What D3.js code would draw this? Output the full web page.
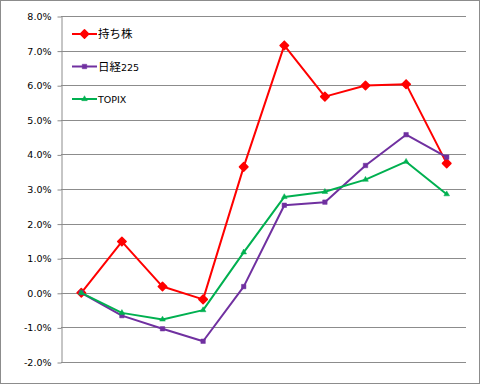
<!DOCTYPE html>
<html><head><meta charset="utf-8">
<script src="https://cdn.jsdelivr.net/npm/d3@7"></script>
<style>body{margin:0;background:#fff}svg{display:block}</style>
</head><body>
<svg id="c" width="480" height="384"></svg>
<script>
const categories = ["1","2","3","4","5","6","7","8","9","10"];
const seriesNames = ["持ち株","日経225","TOPIX"];
const holdings = [0.0, 1.48, 0.18, -0.19, 3.64, 7.15, 5.67, 5.99, 6.03, 3.74];
const nikkei = [0.0, -0.66, -1.04, -1.40, 0.18, 2.53, 2.62, 3.68, 4.57, 3.92];
const topix = [0.0, -0.58, -0.77, -0.50, 1.17, 2.77, 2.92, 3.27, 3.79, 2.85];
const yTicks = [-2,-1,0,1,2,3,4,5,6,7,8];
const colors = ["#FF0000","#7030A0","#00B050"];
const markers = [d3.symbolSquare, d3.symbolSquare, d3.symbolTriangle];
const markerSizes = [36, 20, 14];
const markerRot = [45, 0, 0];

const svg = d3.select("#c");
svg.append("rect").attr("x",0.5).attr("y",0.5).attr("width",479).attr("height",383)
  .attr("fill","#fff").attr("stroke","#8c8c8c");

const L=61, R=467, T=16, B=362;
const x = d3.scaleBand().domain(categories).range([L,R]);
const y = d3.scaleLinear().domain([-2,8]).range([B,T]);
const cx = c => x(c) + x.bandwidth()/2;

// gridlines
svg.append("g").selectAll("line").data(yTicks).join("line")
  .attr("x1",L).attr("x2",R-1).attr("y1",d=>Math.round(y(d))+0.5).attr("y2",d=>Math.round(y(d))+0.5)
  .attr("stroke","#8c8c8c").attr("stroke-width",1);

// y axis
const yAxis = d3.axisLeft(y).tickValues(yTicks).tickSizeOuter(0).tickSizeInner(4).tickPadding(6)
  .tickFormat(d=>d.toFixed(1)+"%");
const ga = svg.append("g").attr("transform",`translate(${L+0.5},0.5)`).call(yAxis);
ga.select(".domain").attr("stroke","#8c8c8c");
ga.selectAll(".tick line").attr("stroke","#8c8c8c");
ga.selectAll(".tick text").attr("font-family","'DejaVu Sans', Verdana, sans-serif")
  .attr("font-size","9.5px").attr("fill","#000");

const data = [holdings, nikkei, topix];
const line = d3.line().x((d,i)=>cx(categories[i])).y(d=>y(d));
data.forEach((s,k)=>{
  const g = svg.append("g");
  g.append("path").attr("d",line(s)).attr("fill","none").attr("stroke",colors[k]).attr("stroke-width",2)
    .attr("stroke-linejoin","round");
  g.selectAll("path.m").data(s).join("path").attr("class","m")
    .attr("d",d3.symbol().type(markers[k]).size(markerSizes[k]))
    .attr("transform",(d,i)=>`translate(${cx(categories[i])},${y(d)}) rotate(${markerRot[k]})`)
    .attr("fill",colors[k]).attr("stroke",colors[k]).attr("stroke-width",k===0?1.5:0.5)
    .attr("stroke-linejoin","round");
});

// legend
const legY = [34, 66.5, 99];
seriesNames.forEach((n,k)=>{
  const g = svg.append("g").attr("transform",`translate(0,${legY[k]})`);
  g.append("line").attr("x1",72).attr("x2",97).attr("y1",0).attr("y2",0).attr("stroke",colors[k]).attr("stroke-width",2);
  g.append("path").attr("d",d3.symbol().type(markers[k]).size(markerSizes[k])())
    .attr("transform",`translate(84.5,0) rotate(${markerRot[k]})`).attr("fill",colors[k]).attr("stroke",colors[k])
    .attr("stroke-width",k===0?1.5:0.5).attr("stroke-linejoin","round");
  const t = g.append("text").attr("x",98).attr("y",4).attr("fill","#000");
  const runs = n.match(/[\u3000-\u9fff]+|[^\u3000-\u9fff]+/g);
  runs.forEach(r=>{
    const cjk = /[\u3000-\u9fff]/.test(r);
    t.append("tspan").text(r)
      .attr("font-family", cjk ? "'Noto Sans CJK JP', sans-serif" : "'DejaVu Sans', Verdana, sans-serif")
      .attr("font-size", cjk ? "11.5px" : "9.5px");
  });
});
</script>
</body></html>
